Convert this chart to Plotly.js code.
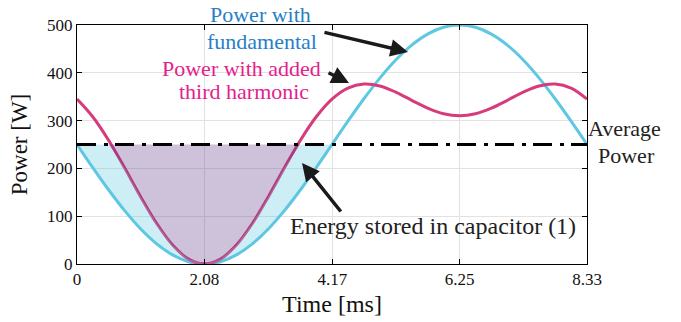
<!DOCTYPE html>
<html>
<head>
<meta charset="utf-8">
<script src="https://cdn.plot.ly/plotly-3.0.1.min.js"></script>
<style>html,body{margin:0;padding:0;background:#fff;}#chart{width:681px;height:322px;}</style>
</head>
<body>
<div id="chart"></div>
<script>
// Time samples [ms] over one power period
var timeMs = [0, 0.260, 0.521, 0.781, 1.041, 1.302, 1.562, 1.822, 2.083, 2.343, 2.603, 2.864, 3.124, 3.384, 3.644, 3.905, 4.165,
              4.425, 4.686, 4.946, 5.206, 5.467, 5.727, 5.987, 6.248, 6.508, 6.768, 7.029, 7.289, 7.549, 7.809, 8.070, 8.330];
// Power with fundamental [W]
var powerFundamental = [250, 201.2, 154.3, 111.1, 73.2, 42.1, 19.0, 4.8, 0, 4.8, 19.0, 42.1, 73.2, 111.1, 154.3, 201.2, 250,
                        298.8, 345.7, 388.9, 426.8, 457.9, 481.0, 495.2, 500, 495.2, 481.0, 457.9, 426.8, 388.9, 345.7, 298.8, 250];
// Power with added third harmonic [W]
var powerThirdHarmonic = [345, 307.6, 257.9, 200.3, 140.4, 84.7, 39.6, 10.2, 0, 10.2, 39.6, 84.7, 140.4, 200.3, 257.9, 307.6, 345,
                          368.0, 376.5, 372.5, 359.6, 342.5, 326.0, 314.2, 310, 314.2, 326.0, 342.5, 359.6, 372.5, 376.5, 368.0, 345];
var averagePower = 250;
// Shaded interval (first half period): index range of timeMs
var shadeEnd = 16;

var xTickVals = [0, 2.08, 4.17, 6.25, 8.33];
var xTickText = ['0', '2.08', '4.17', '6.25', '8.33'];
var yTickVals = [0, 100, 200, 300, 400, 500];

var labelFundamental = ['Power with', 'fundamental'];
var labelThird = ['Power with added', 'third harmonic'];
var labelAverage = ['Average', 'Power'];
var labelEnergy = 'Energy stored in capacitor (1)';
var xTitle = 'Time [ms]';
var yTitle = 'Power [W]';

var FONT = "'Liberation Serif', 'Times New Roman', Times, 'DejaVu Serif', serif";

// derived arrays for the shaded regions
var tShade = timeMs.slice(0, shadeEnd + 1);
var fundShade = powerFundamental.slice(0, shadeEnd + 1);
var thirdClip = powerThirdHarmonic.slice(0, shadeEnd + 1).map(function (v) { return Math.min(v, averagePower); });
var avgShade = tShade.map(function () { return averagePower; });
var avgFull = timeMs.map(function () { return averagePower; });

var BLUE = 'rgb(94,200,226)';
var MAG = 'rgb(214,60,124)';

var traces = [
  {x: timeMs, y: powerFundamental, mode: 'lines', line: {color: BLUE, width: 3, shape: 'spline'}, hoverinfo: 'skip'},
  {x: timeMs, y: powerThirdHarmonic, mode: 'lines', line: {color: MAG, width: 3, shape: 'spline'}, hoverinfo: 'skip'},
  {x: tShade, y: fundShade, mode: 'lines', line: {width: 0, shape: 'spline'}, hoverinfo: 'skip'},
  {x: tShade, y: thirdClip, mode: 'lines', line: {width: 0}, fill: 'tonexty', fillcolor: 'rgba(94,200,226,0.3)', hoverinfo: 'skip'},
  {x: tShade, y: avgShade, mode: 'lines', line: {width: 0}, fill: 'tonexty', fillcolor: 'rgba(88,52,132,0.3)', hoverinfo: 'skip'},
  {x: timeMs, y: avgFull, mode: 'lines', line: {color: '#000', width: 3.2, dash: '19px,8px,4px,7px'}, hoverinfo: 'skip'}
];

var ann = [];
function txt(t, x, y, color, size) {
  ann.push({text: t, xref: 'paper', yref: 'paper', x: x, y: y, xanchor: 'center', yanchor: 'middle',
            showarrow: false, font: {family: FONT, size: size || 22, color: color}});
}
txt(labelFundamental[0], 0.359, 1.042, 'rgb(38,128,198)');
txt(labelFundamental[1], 0.363, 0.933, 'rgb(38,128,198)');
txt(labelThird[0], 0.322, 0.820, 'rgb(228,30,140)');
txt(labelThird[1], 0.327, 0.720, 'rgb(228,30,140)');
txt(labelAverage[0], 1.0745, 0.569, '#222');
txt(labelAverage[1], 1.078, 0.456, '#222');
txt(labelEnergy, 0.698, 0.159, '#222', 24);

function arrow(x, y, ax, ay) {
  ann.push({text: '', x: x, y: y, xref: 'x', yref: 'y', ax: ax, ay: ay, showarrow: true,
            arrowhead: 2, arrowsize: 1, arrowwidth: 3.5, arrowcolor: '#1a1a1a', standoff: 0});
}
arrow(5.406, 443.5, -85, -20);
arrow(4.443, 378.7, -22, -11);
arrow(3.675, 211.3, 40, 50);

var axisCommon = {
  showline: true, linecolor: '#000', linewidth: 1, mirror: 'ticks',
  ticks: 'inside', ticklen: 5, tickwidth: 1, tickcolor: '#000',
  showgrid: true, gridcolor: '#e2e2e2', gridwidth: 1, zeroline: false,
  tickfont: {family: FONT, size: 17, color: '#111'}
};

var layout = {
  width: 681, height: 322,
  margin: {l: 77, r: 94, t: 25, b: 58},
  paper_bgcolor: '#fff', plot_bgcolor: '#fff',
  showlegend: false,
  font: {family: FONT, color: '#111'},
  xaxis: Object.assign({}, axisCommon, {range: [0, 8.33], tickmode: 'array', tickvals: xTickVals, ticktext: xTickText,
    title: {text: xTitle, font: {family: FONT, size: 24, color: '#111'}, standoff: 6}}),
  yaxis: Object.assign({}, axisCommon, {range: [0, 500], tickmode: 'array', tickvals: yTickVals,
    title: {text: yTitle, font: {family: FONT, size: 23, color: '#111'}, standoff: 13}}),
  annotations: ann
};

Plotly.newPlot('chart', traces, layout, {displayModeBar: false, staticPlot: true});
</script>
</body>
</html>
